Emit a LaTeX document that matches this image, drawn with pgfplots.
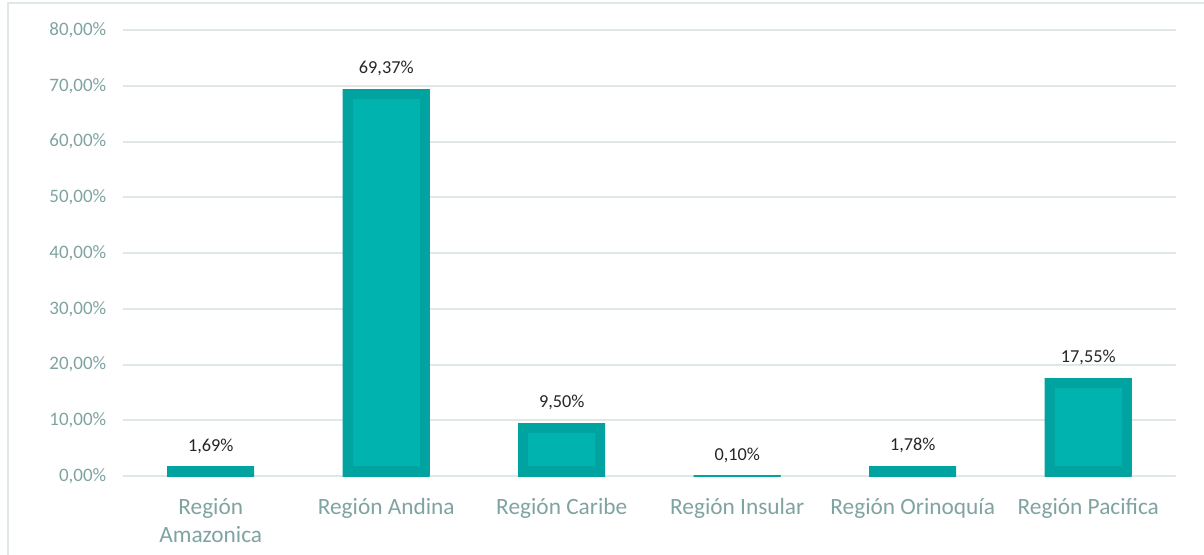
\documentclass[border=0pt]{standalone}
\usepackage{pgfplots}
\pgfplotsset{compat=1.18}
\usepackage{fontspec}
\setmainfont{Carlito}
\definecolor{barlight}{HTML}{00B3AE}
\definecolor{bardark}{HTML}{00A39F}
\definecolor{gridc}{HTML}{DFE8E6}
\definecolor{tickc}{HTML}{7FA3A1}
\definecolor{labc}{HTML}{262626}
\pgfplotsset{
  regbar/.style={ybar, bar width=65.25pt, bar shift=0pt, fill=barlight, draw=none,
    path picture={\pgfsetlinewidth{15pt}\pgfsetstrokecolor{bardark}%
      \pgfpathrectanglecorners{\pgfpointanchor{path picture bounding box}{south west}}{\pgfpointanchor{path picture bounding box}{north east}}%
      \pgfusepath{stroke}}}
}
\begin{document}
\begin{tikzpicture}
\useasboundingbox (-92.25pt,-58.5pt) rectangle (810.75pt,357pt);
\draw[gridc, line width=1.2pt] (-86.25pt,-60pt) -- (-86.25pt,354.75pt) -- (812pt,354.75pt);
\begin{axis}[
  at={(0pt,0pt)}, anchor=south west,
  scale only axis, width=789.75pt, height=334.5pt,
  xmin=-0.5, xmax=5.5, ymin=0, ymax=80,
  ytick={0,10,...,80},
  xtick={0,...,5},
  xticklabels={{Región\\Amazonica},{Región Andina},{Región Caribe},{Región Insular},{Región Orinoquía},{Región Pacifica}},
  axis line style={draw=none},
  major tick length=0pt,
  ymajorgrids, grid style={gridc, line width=1.5pt},
  /pgf/number format/assume math mode=true,
  yticklabel={\pgfmathprintnumber[fixed,fixed zerofill,precision=2,use comma]{\tick}\%},
  yticklabel style={font=\fontsize{14.25}{16}\selectfont, text=tickc, xshift=-9pt},
  xticklabel style={font=\fontsize{17.5}{21}\selectfont, text=tickc, align=center, yshift=-13pt},
  clip=false,
]
\addplot[regbar] coordinates {(0,1.69)};
\addplot[regbar] coordinates {(1,69.37)};
\addplot[regbar] coordinates {(2,9.50)};
\addplot[regbar] coordinates {(3,0.10)};
\addplot[regbar] coordinates {(4,1.78)};
\addplot[regbar] coordinates {(5,17.55)};
\addplot[draw=none, mark=none, nodes near coords={\pgfmathprintnumber[fixed,fixed zerofill,precision=2,use comma]{\pgfplotspointmeta}\%},
  every node near coord/.style={anchor=base, inner sep=0pt, yshift=11.5pt, text=labc, font=\fontsize{13.7}{16}\selectfont}]
  coordinates {(0,1.69) (1,69.37) (2,9.50) (3,0.10) (4,1.78) (5,17.55)};
\end{axis}
\end{tikzpicture}
\end{document}
